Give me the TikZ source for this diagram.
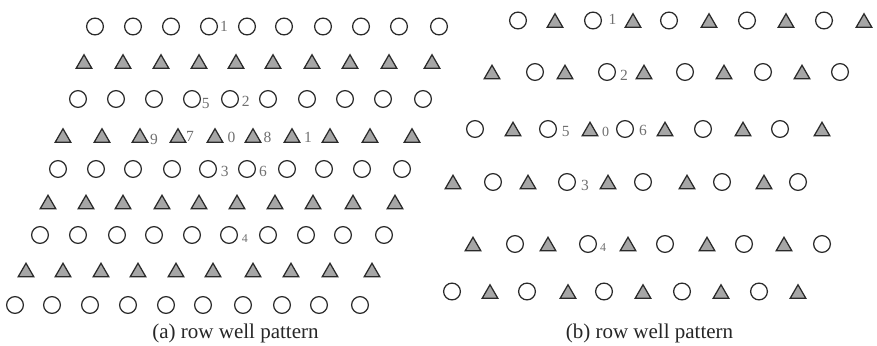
\documentclass[tikz,border=0pt]{standalone}
\usepackage{fontspec}
\setmainfont{Liberation Serif}
\usetikzlibrary{shapes.geometric}
\definecolor{strokec}{HTML}{2A2A2A}
\definecolor{trifill}{HTML}{A6A6A6}
\definecolor{lblgray}{HTML}{707070}
\begin{document}
\begin{tikzpicture}[x=1pt,y=-1pt,
 wc/.style={circle,draw=strokec,line width=1.25pt,minimum size=16.8pt,inner sep=0pt,fill=white},
 wt/.style={regular polygon,regular polygon sides=3,draw=strokec,line width=1.25pt,fill=trifill,minimum size=18pt,inner sep=0pt,yshift=-2.25pt},
 lbl/.style={text=lblgray,font=\fontsize{15.5}{16}\selectfont,inner sep=0pt,anchor=base west},
 lbls/.style={lbl,font=\fontsize{12}{13}\selectfont},
 lblm/.style={lbl,font=\fontsize{14}{15}\selectfont},
 captxt/.style={font=\fontsize{21}{24}\selectfont,text=black!85,inner sep=0pt,anchor=base}]
\useasboundingbox (0,0) rectangle (877,345);
% ---------- (a) ----------
\foreach \x [count=\i] in {95,133,171,209,247,284,323,361,399,439} \node[wc] (a1-\i) at (\x,26.5) {};
\foreach \x [count=\i] in {84,123,161,199,236,273,312,350,389,432} \node[wt] (a2-\i) at (\x,61.5) {};
\foreach \x [count=\i] in {78,116,154,192,230,268,307,345,383,423} \node[wc] (a3-\i) at (\x,99) {};
\foreach \x [count=\i] in {63,102,140,178,215,253,292,330,370,412} \node[wt] (a4-\i) at (\x,135.5) {};
\foreach \x [count=\i] in {58,96,133,172,208,247,287,324,362,402} \node[wc] (a5-\i) at (\x,169) {};
\foreach \x [count=\i] in {48,86,123,162,199,237,275,313,353,395} \node[wt] (a6-\i) at (\x,202) {};
\foreach \x [count=\i] in {40,78,117,154,192,229,268,306,343,384} \node[wc] (a7-\i) at (\x,235) {};
\foreach \x [count=\i] in {26,63,101,138,176,213,253,291,330,372} \node[wt] (a8-\i) at (\x,270) {};
\foreach \x [count=\i] in {15,52,90,128,166,203,243,282,319,360} \node[wc] (a9-\i) at (\x,305) {};
\node[lbl] (la1) at (220,31.7) {1};
\node[lbl] (la5) at (201.7,108) {5};
\node[lbl] (la2) at (241.7,106.7) {2};
\node[lbl] (la9) at (150,144.3) {9};
\node[lbl] (la7) at (186,141.7) {7};
\node[lbl] (la0) at (227.3,142.7) {0};
\node[lbl] (la8) at (263.3,142.7) {8};
\node[lbl] (la1b) at (304,142.7) {1};
\node[lbl] (la3) at (220.7,176) {3};
\node[lbl] (la6) at (259,176) {6};
\node[lbls] (la4) at (241.7,242.7) {4};
\node[captxt] (capa) at (235.5,338) {(a) row well pattern};
% ---------- (b) ----------
\foreach \x [count=\i] in {518,593,669,747,824} \node[wc] (b1c-\i) at (\x,20.5) {};
\foreach \x [count=\i] in {555,633,709,786,864} \node[wt] (b1t-\i) at (\x,20.5) {};
\foreach \x [count=\i] in {535,607,685,763,840} \node[wc] (b2c-\i) at (\x,72) {};
\foreach \x [count=\i] in {492,565,644,724,802} \node[wt] (b2t-\i) at (\x,72) {};
\foreach \x [count=\i] in {475,548,625,703,780} \node[wc] (b3c-\i) at (\x,129) {};
\foreach \x [count=\i] in {513,590,665,743,822} \node[wt] (b3t-\i) at (\x,129) {};
\foreach \x [count=\i] in {493,567,643,722,798} \node[wc] (b4c-\i) at (\x,182) {};
\foreach \x [count=\i] in {453,528,608,687,764} \node[wt] (b4t-\i) at (\x,182) {};
\foreach \x [count=\i] in {515,588,665,744,822} \node[wc] (b5c-\i) at (\x,244) {};
\foreach \x [count=\i] in {473,548,628,707,784} \node[wt] (b5t-\i) at (\x,244) {};
\foreach \x [count=\i] in {452,527,604,682,759} \node[wc] (b6c-\i) at (\x,291.5) {};
\foreach \x [count=\i] in {490,568,643,721,798} \node[wt] (b6t-\i) at (\x,291.5) {};
\node[lbl] (lb1) at (608.3,25) {1};
\node[lbl] (lb2) at (620,81) {2};
\node[lbl] (lb5) at (561.7,136) {5};
\node[lblm] (lb0) at (602,136) {0};
\node[lbl] (lb6) at (639,135) {6};
\node[lbl] (lb3) at (581,190.7) {3};
\node[lbls] (lb4) at (600,251.7) {4};
\node[captxt] (capb) at (649.5,338) {(b) row well pattern};
\end{tikzpicture}
\end{document}
